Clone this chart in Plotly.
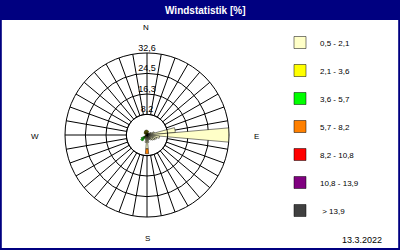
import plotly.graph_objects as go

# ---- data ----
directions = [10 * i for i in range(1, 37)]  # degrees, 10..360
class_names = ["0,5 - 2,1", "2,1 - 3,6", "3,6 - 5,7", "5,7 - 8,2",
               "8,2 - 10,8", "10,8 - 13,9", " > 13,9"]
class_colors = ["#FFFFC8", "#FFFF00", "#00FF00", "#FF8000",
                "#FF0000", "#800080", "#404040"]

#            10   20   30   40   50   60   70   80    90   100  110  120  130  140  150  160  170  180
c_05_21 = [0.3, 0.4, 0.8, 1.0, 1.2, 1.8, 3.0, 11.3, 32.5, 5.0, 4.0, 3.5, 3.0, 2.5, 2.0, 2.0, 3.0, 5.5,
           3.0, 1.8, 1.2, 1.0, 1.0, 0.8, 0.6, 0.6, 0.5, 0.4, 0.3, 0.3, 0.3, 0.3, 0.3, 0.3, 0.3, 0.3]
#            190  200  210  220  230  240  250  260  270  280  290  300  310  320  330  340  350  360
c_21_36 = [1.4, 1.2, 0, 0, 0, 0, 0, 0, 0, 0, 0, 0, 0, 0, 0, 0, 0, 0,
           0, 0, 0, 0.3, 0.3, 0.3, 0, 0, 0, 0, 0, 1.0, 1.2, 1.3, 1.5, 1.6, 1.7, 1.6]
c_36_57 = [0, 0, 0, 0, 0, 0, 0, 0, 0, 0, 0, 0, 0, 0, 0, 0, 0, 0,
           0, 0, 0, 1.6, 1.8, 1.5, 0, 0, 0, 0, 0, 0, 0, 0, 0, 0, 0, 0]
c_57_82 = [0, 0, 0, 0, 0, 0, 0, 0, 0, 0, 0, 0, 0, 0, 0, 0, 0, 2.0,
           0, 0, 0, 0, 0, 0, 0, 0, 0, 0, 0, 0, 0, 0, 0, 0, 0, 0]
c_82_108 = [0] * 36
c_108_139 = [0] * 36
c_gt_139 = [0] * 36
series = [c_05_21, c_21_36, c_36_57, c_57_82, c_82_108, c_108_139, c_gt_139]

ring_values = [8.2, 16.3, 24.5, 32.6]
ring_labels = ["8,2", "16,3", "24,5", "32,6"]
compass = ["N", "E", "S", "W"]
date_text = "13.3.2022"
title_text = "Windstatistik [%]"

# ---- layout geometry ----
W, H = 400, 250
cx, cy, R = 147, 135, 82
dom_x = [(cx - R) / W, (cx + R) / W]
dom_y = [(H - cy - R) / H, (H - cy + R) / H]
rmin, rmax = ring_values[0], ring_values[-1]

fig = go.Figure()

# grid subplot (polar) : ring labels
fig.add_trace(go.Scatterpolar(
    r=ring_values, theta=[0] * len(ring_values), mode="text",
    text=ring_labels, textposition="top center",
    textfont=dict(family="Liberation Sans", size=9, color="black"),
    cliponaxis=False, showlegend=False, hoverinfo="skip", subplot="polar"))

# bars subplot (polar2): inner circle then stacked bars
circle_theta = list(range(0, 361, 3))
fig.add_trace(go.Scatterpolar(
    r=[rmin] * len(circle_theta), theta=circle_theta, mode="lines",
    line=dict(color="black", width=1), showlegend=False,
    hoverinfo="skip", subplot="polar2"))

for name, col, vals in zip(class_names, class_colors, series):
    fig.add_trace(go.Barpolar(
        r=vals, theta=directions, width=[10] * 36, name=name,
        marker=dict(color=col, line=dict(color="black", width=0.5)),
        legendgroup=name, subplot="polar2"))

fig.update_layout(
    width=W, height=H, margin=dict(l=0, r=0, t=0, b=0),
    paper_bgcolor="white", plot_bgcolor="white",
    polar=dict(
        domain=dict(x=dom_x, y=dom_y), hole=rmin / rmax, bgcolor="white",
        radialaxis=dict(range=[rmin, rmax], tickvals=ring_values[1:-1],
                        showticklabels=False, ticks="", showline=False,
                        gridcolor="black", gridwidth=1),
        angularaxis=dict(rotation=90, direction="clockwise", dtick=10,
                         showticklabels=False, ticks="", showline=True,
                         linecolor="black", linewidth=1,
                         gridcolor="black", gridwidth=1)),
    polar2=dict(
        domain=dict(x=dom_x, y=dom_y), bgcolor="rgba(0,0,0,0)", barmode="stack",
        radialaxis=dict(range=[0, rmax], visible=False, showgrid=False),
        angularaxis=dict(rotation=90, direction="clockwise", showgrid=False,
                         showticklabels=False, ticks="", showline=False)),
    legend=dict(x=280 / W, y=1 - 28 / H, xanchor="left", yanchor="top",
                font=dict(family="Liberation Sans", size=8, color="black"),
                tracegroupgap=9, bgcolor="rgba(0,0,0,0)", itemclick=False),
    showlegend=True,
)

# frame and title bar
fig.add_shape(type="rect", xref="paper", yref="paper", x0=0, x1=1,
              y0=1 - 20 / H, y1=1, fillcolor="#000080", line=dict(width=0), layer="above")
fig.add_shape(type="rect", xref="paper", yref="paper", x0=0.002, x1=0.998,
              y0=0.004, y1=0.996, fillcolor="rgba(0,0,0,0)",
              line=dict(color="#000080", width=2), layer="above")

fig.add_annotation(x=205 / W, y=1 - 10 / H, xref="paper", yref="paper",
                   xanchor="center", yanchor="middle",
                   text="<b>" + title_text + "</b>", showarrow=False,
                   font=dict(family="Liberation Sans", size=10, color="white"))

compass_pos = {"N": (146, 28), "E": (256, 136), "S": (147, 238), "W": (35, 136)}
for c in compass:
    px, py = compass_pos[c]
    fig.add_annotation(x=px / W, y=1 - py / H, xref="paper", yref="paper",
                       xanchor="center", yanchor="middle",
                       text=c, showarrow=False,
                       font=dict(family="Liberation Sans", size=8, color="black"))

fig.add_annotation(x=384 / W, y=1 - 240 / H, xref="paper", yref="paper",
                   xanchor="right", yanchor="middle", text=date_text, showarrow=False,
                   font=dict(family="Liberation Sans", size=9, color="black"))

fig.write_html("out.html")
